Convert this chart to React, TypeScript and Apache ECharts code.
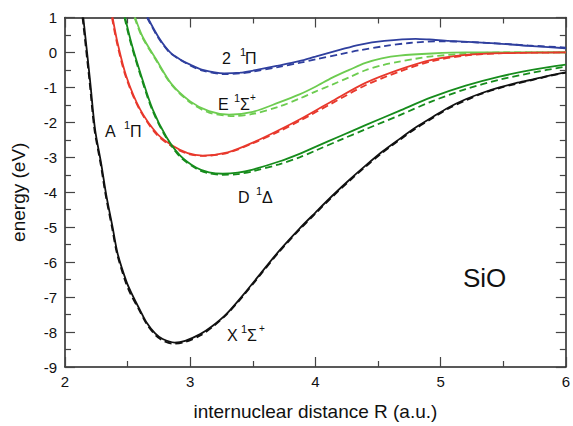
import React, { useEffect, useRef } from "react";
import * as echarts from "echarts";

// ---- data (R in a.u., energy in eV) ----
const X_solid: [number, number][] = [
  [2.146, 1], [2.2, -0.8], [2.24, -2.2], [2.29, -3.2], [2.33, -4.09], [2.38, -5.0], [2.42, -5.75],
  [2.49, -6.55], [2.53, -6.88], [2.6, -7.38], [2.65, -7.72], [2.72, -8.04], [2.78, -8.2], [2.876, -8.3],
  [2.96, -8.25], [3.08, -8.06], [3.18, -7.82], [3.29, -7.48], [3.42, -6.95], [3.55, -6.38],
  [3.7, -5.72], [3.873, -5.04], [4.0, -4.58], [4.135, -4.1], [4.27, -3.65], [4.4, -3.24],
  [4.53, -2.85], [4.67, -2.48], [4.8, -2.15], [4.93, -1.86], [5.06, -1.58], [5.2, -1.34],
  [5.33, -1.16], [5.47, -1.0], [5.6, -0.88], [5.73, -0.78], [5.86, -0.67], [6.0, -0.57],
];
const X_dashed: [number, number][] = [
  [2.14, 1], [2.195, -0.8], [2.235, -2.2], [2.285, -3.2], [2.325, -4.09], [2.375, -5.0], [2.415, -5.75],
  [2.485, -6.58], [2.525, -6.92], [2.6, -7.42], [2.65, -7.76], [2.72, -8.08], [2.78, -8.24], [2.86, -8.33],
  [2.96, -8.28], [3.08, -8.1], [3.18, -7.85], [3.29, -7.5], [3.42, -6.98], [3.55, -6.41],
  [3.7, -5.75], [3.873, -5.07], [4.0, -4.61], [4.135, -4.13], [4.27, -3.68], [4.4, -3.27],
  [4.53, -2.88], [4.67, -2.51], [4.8, -2.18], [4.93, -1.89], [5.06, -1.61], [5.2, -1.37],
  [5.33, -1.18], [5.47, -1.02], [5.6, -0.9], [5.73, -0.79], [5.86, -0.68], [6.0, -0.58],
];
const D_solid: [number, number][] = [
  [2.48, 1], [2.53, 0.27], [2.61, -0.68], [2.7, -1.63], [2.81, -2.42], [2.92, -2.95], [3.05, -3.3],
  [3.15, -3.43], [3.26, -3.47], [3.38, -3.44], [3.5, -3.35], [3.71, -3.12], [3.873, -2.9], [4.0, -2.7],
  [4.2, -2.39], [4.4, -2.08], [4.67, -1.67], [4.93, -1.28], [5.2, -0.95], [5.47, -0.69],
  [5.73, -0.5], [6.0, -0.35],
];
const D_dashed: [number, number][] = [
  [2.475, 1], [2.525, 0.27], [2.605, -0.68], [2.695, -1.63], [2.805, -2.42], [2.915, -2.97], [3.05, -3.33],
  [3.15, -3.46], [3.26, -3.5], [3.38, -3.48], [3.5, -3.4], [3.71, -3.2], [3.873, -3.0], [4.0, -2.81],
  [4.2, -2.5], [4.4, -2.2], [4.67, -1.8], [4.93, -1.4], [5.2, -1.05], [5.47, -0.78],
  [5.73, -0.58], [6.0, -0.4],
];
const A_solid: [number, number][] = [
  [2.38, 1], [2.42, 0.27], [2.49, -0.69], [2.6, -1.63], [2.74, -2.34], [2.86, -2.67], [2.98, -2.88],
  [3.1, -2.95], [3.3, -2.86], [3.5, -2.58], [3.71, -2.22], [3.873, -1.92], [4.135, -1.39], [4.4, -0.87],
  [4.67, -0.49], [4.93, -0.21], [5.2, -0.07], [5.5, -0.02], [6.0, 0],
];
const A_dashed: [number, number][] = [
  [2.375, 1], [2.415, 0.27], [2.485, -0.69], [2.595, -1.63], [2.735, -2.36], [2.86, -2.7], [2.98, -2.9],
  [3.1, -2.96], [3.3, -2.87], [3.5, -2.6], [3.71, -2.26], [3.873, -1.96], [4.135, -1.45], [4.4, -0.94],
  [4.67, -0.55], [4.93, -0.25], [5.2, -0.09], [5.5, -0.02], [6.0, 0],
];
const E_solid: [number, number][] = [
  [2.56, 1], [2.62, 0.45], [2.73, -0.21], [2.85, -0.9], [3.0, -1.4], [3.15, -1.68], [3.31, -1.78],
  [3.5, -1.7], [3.71, -1.43], [3.873, -1.2], [4.0, -0.98], [4.135, -0.72], [4.27, -0.5], [4.4, -0.3],
  [4.53, -0.17], [4.67, -0.09], [4.93, -0.03], [5.2, 0], [6.0, 0],
];
const E_dashed: [number, number][] = [
  [2.555, 1], [2.615, 0.45], [2.725, -0.21], [2.85, -0.92], [3.0, -1.43], [3.15, -1.72], [3.35, -1.82],
  [3.5, -1.76], [3.71, -1.55], [3.873, -1.32], [4.0, -1.12], [4.135, -0.92], [4.27, -0.71], [4.4, -0.51],
  [4.53, -0.37], [4.67, -0.26], [4.8, -0.18], [4.93, -0.11], [5.2, -0.04], [5.5, 0], [6.0, 0],
];
const P2_solid: [number, number][] = [
  [2.66, 1], [2.75, 0.42], [2.84, 0], [2.92, -0.2], [3.0, -0.35], [3.1, -0.5], [3.27, -0.6],
  [3.4, -0.58], [3.5, -0.52], [3.7, -0.38], [3.87, -0.25], [4.0, -0.12], [4.2, 0.08], [4.35, 0.22],
  [4.55, 0.33], [4.8, 0.39], [4.91, 0.37], [5.07, 0.33], [5.44, 0.26], [5.7, 0.19], [6.0, 0.12],
];
const P2_dashed: [number, number][] = [
  [2.655, 1], [2.745, 0.42], [2.835, 0], [2.92, -0.21], [3.0, -0.37], [3.1, -0.52], [3.27, -0.62],
  [3.4, -0.6], [3.5, -0.55], [3.7, -0.42], [3.87, -0.3], [4.0, -0.2], [4.2, -0.05], [4.35, 0.06],
  [4.55, 0.18], [4.75, 0.27], [5.0, 0.32], [5.2, 0.3], [5.44, 0.26], [5.7, 0.2], [6.0, 0.14],
];

const xTicks = { min: 2, max: 6, interval: 1 };
const yTicks = { min: -9, max: 1, interval: 1 };

const BLACK = "#111111";
const RED = "#e8382c";
const DGREEN = "#168c1c";
const LGREEN = "#6dcc50";
const BLUE = "#2f3f9e";

const FONT = "Liberation Sans, Arial, sans-serif";

export default function App() {
  const ref = useRef<HTMLDivElement>(null);
  useEffect(() => {
    if (!ref.current) return;
    const chart = echarts.init(ref.current, null, { renderer: "svg" });

    const mk = (data: [number, number][], color: string, dashed: boolean, z: number) => ({
      type: "line",
      data,
      showSymbol: false,
      smooth: 0.3,
      clip: true,
      z,
      lineStyle: { color, width: 1.8, type: dashed ? [7, 4] : "solid" },
    });

    const axisCommon = {
      axisLine: { show: true, onZero: false, lineStyle: { color: "#222", width: 1.5 } },
      axisTick: { show: true, inside: true, length: 10, lineStyle: { color: "#444", width: 1.2 } },
      minorTick: { show: true, splitNumber: 2, length: 6, lineStyle: { color: "#444", width: 1.2 } },
      splitLine: { show: false },
      minorSplitLine: { show: false },
    };

    const sup = (t: string, x: number, y: number, size = 11) => ({
      type: "text",
      x,
      y,
      style: { text: t, fill: "#111", font: `${size}px ${FONT}`, verticalAlign: "middle" },
    });
    const big = (t: string, x: number, y: number, size = 16) => ({
      type: "text",
      x,
      y,
      style: { text: t, fill: "#111", font: `${size}px ${FONT}`, verticalAlign: "middle" },
    });

    chart.setOption({
      animation: false,
      backgroundColor: "#fff",
      grid: { left: 65, right: 6, top: 17.5, bottom: 56.5 },
      xAxis: [
        {
          type: "value",
          ...xTicks,
          position: "bottom",
          ...axisCommon,
          axisLabel: { fontSize: 15, color: "#111", margin: 7, fontFamily: FONT },
          name: "internuclear distance R (a.u.)",
          nameLocation: "middle",
          nameGap: 35,
          nameTextStyle: { fontSize: 19, color: "#111", fontFamily: FONT },
        },
        {
          type: "value",
          ...xTicks,
          position: "top",
          ...axisCommon,
          axisLabel: { show: false },
        },
      ],
      yAxis: [
        {
          type: "value",
          ...yTicks,
          position: "left",
          ...axisCommon,
          axisLabel: { fontSize: 15, color: "#111", margin: 8, fontFamily: FONT },
          name: "energy (eV)",
          nameLocation: "middle",
          nameGap: 37,
          nameRotate: 90,
          nameTextStyle: { fontSize: 19, color: "#111", fontFamily: FONT },
        },
        {
          type: "value",
          ...yTicks,
          position: "right",
          ...axisCommon,
          axisLabel: { show: false },
        },
      ],
      series: [
        mk(P2_dashed, BLUE, true, 2),
        mk(P2_solid, BLUE, false, 3),
        mk(E_dashed, LGREEN, true, 2),
        mk(E_solid, LGREEN, false, 3),
        mk(A_dashed, RED, true, 2),
        mk(A_solid, RED, false, 3),
        mk(D_dashed, DGREEN, true, 2),
        mk(D_solid, DGREEN, false, 3),
        mk(X_dashed, BLACK, true, 2),
        mk(X_solid, BLACK, false, 3),
      ],
      graphic: [
        big("2", 222, 58), sup("1", 240, 52), big("Π", 245, 58),
        big("E", 218, 104), sup("1", 234, 98), big("Σ", 240, 104), sup("+", 250, 97, 10),
        big("A", 105, 131), sup("1", 124, 125), big("Π", 130, 131),
        big("D", 238, 197), sup("1", 256, 191), big("Δ", 262, 197),
        big("X", 227, 335), sup("1", 241, 329), big("Σ", 247, 335), sup("+", 259, 328, 10),
        big("SiO", 463, 278, 26),
      ],
    });
    return () => chart.dispose();
  }, []);
  return (
    <div
      ref={ref}
      style={{ position: "fixed", left: 0, top: 0, width: 573, height: 426, background: "#fff" }}
    />
  );
}
